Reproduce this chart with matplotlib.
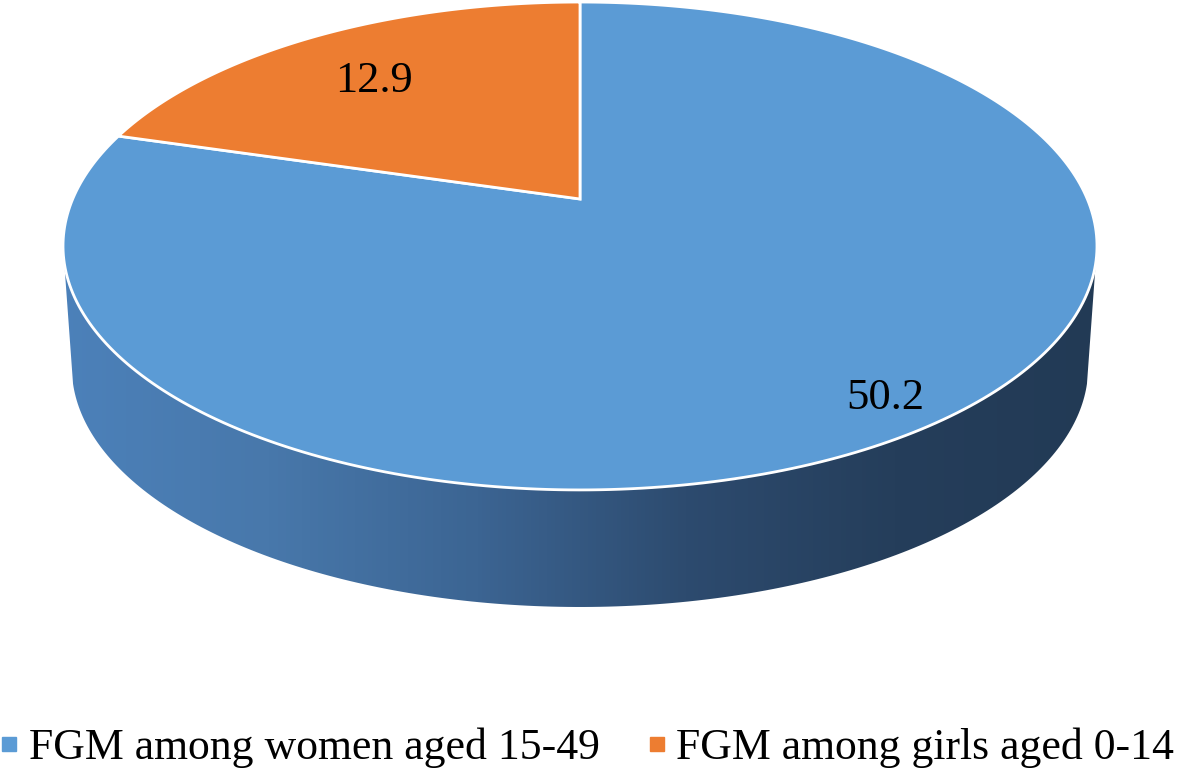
import numpy as np
import matplotlib.pyplot as plt
from matplotlib.patches import Polygon
from matplotlib.lines import Line2D
from matplotlib.colors import LinearSegmentedColormap

# DATA
labels = ["FGM among women aged 15-49", "FGM among girls aged 0-14"]
values = [50.2, 12.9]
colors = ["#5b9bd5", "#ed7d31"]

# PIE GEOMETRY (pixel space, perspective squashed disk)
W, H = 1177, 770
CX, CY = 580, 199          # projected pie centre
A, B = 507.3, 234.9        # horizontal / vertical radius
K = 0.1926                 # perspective factor
DY = 122                   # thickness of the pie
BOT_SCALE = 0.983          # bottom disk looks a bit smaller
FRONT = (195, 345)         # visible range of the side wall, degrees

plt.rcParams['font.family'] = ['Liberation Serif', 'DejaVu Serif']


def proj(theta, r=1.0, depth=0.0):
    t = np.radians(theta)
    u = r * np.cos(t)
    v = r * np.sin(t)
    s = 1 - depth * (1 - BOT_SCALE)
    w = 1 + K * v
    x = CX + s * A * u / w
    y = CY - s * B * v / w + depth * DY
    return x, y


fig = plt.figure(figsize=(W / 100, H / 100), dpi=100)
ax = fig.add_axes([0, 0, 1, 1])
ax.set_xlim(0, W)
ax.set_ylim(H, 0)
ax.axis('off')

# wedge angles: start at 12 o'clock, go clockwise
total = sum(values)
starts = []
ang = 90.0
for v in values:
    sweep = 360.0 * v / total
    starts.append((ang - sweep, ang))
    ang -= sweep

# SIDE WALL
wall_cmap = LinearSegmentedColormap.from_list(
    "wall", ["#4c81ba", "#4878ab", "#3c6593", "#2d4b6f", "#253e5b", "#223a55"])
grad = np.linspace(0, 1, 256).reshape(1, -1)
for (a0, a1), c in zip(starts, colors):
    # bring the wedge range near the front range
    lo, hi = a0 % 360, a0 % 360 + (a1 - a0)
    for shift in (-360, 0, 360):
        s0 = max(lo + shift, FRONT[0])
        s1 = min(hi + shift, FRONT[1])
        if s1 <= s0:
            continue
        th = np.linspace(s0, s1, 200)
        xt, yt = proj(th)
        xb, yb = proj(th[::-1], depth=1.0)
        pts = np.column_stack([np.r_[xt, xb], np.r_[yt, yb]])
        poly = Polygon(pts, closed=True, facecolor='none', edgecolor='none')
        ax.add_patch(poly)
        im = ax.imshow(grad, cmap=wall_cmap, aspect='auto',
                       extent=(CX - A * 1.03, CX + A * 1.03, H, 0), zorder=1)
        im.set_clip_path(poly)

ax.set_xlim(0, W)
ax.set_ylim(H, 0)

# TOP FACE
for (a0, a1), c in zip(starts, colors):
    th = np.linspace(a0, a1, 300)
    xs, ys = proj(th)
    pts = np.column_stack([np.r_[CX, xs], np.r_[CY, ys]])
    ax.add_patch(Polygon(pts, closed=True, facecolor=c, edgecolor='white',
                         linewidth=2, joinstyle='miter', zorder=3))

# DATA LABELS
label_r = [0.87, 0.76]
for (a0, a1), v, r in zip(starts, values, label_r):
    x, y = proj((a0 + a1) / 2, r=r, depth=0.08)
    ax.text(x, y, f"{v}", ha='center', va='center', fontsize=32, zorder=5)

# LEGEND
handles = [Line2D([], [], marker='s', linestyle='none', markersize=9.4,
                  markerfacecolor=c, markeredgecolor=c) for c in colors]
ax.legend(handles, labels, loc='center', bbox_to_anchor=(0.5, 1 - 748 / H),
          ncol=2, frameon=False, fontsize=31.5, handlelength=0.3,
          handletextpad=0.3, columnspacing=1.15, borderaxespad=0, borderpad=0)

fig.savefig("out.png", dpi=100)
